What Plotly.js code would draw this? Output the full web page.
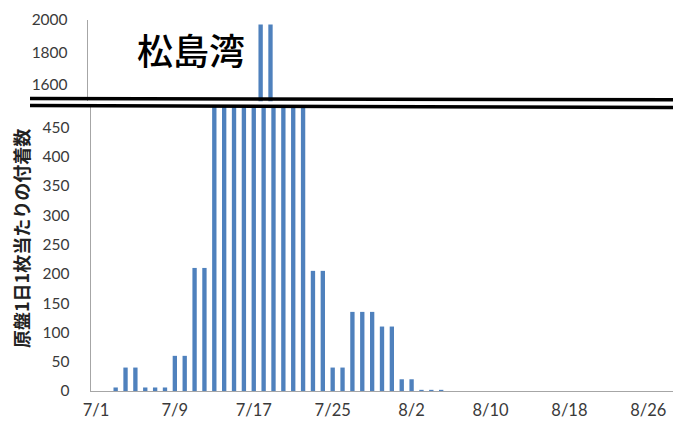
<!DOCTYPE html>
<html>
<head>
<meta charset="utf-8">
<script src="https://cdn.plot.ly/plotly-3.0.1.min.js"></script>
<style>html,body{margin:0;padding:0;background:#fff}#chart{width:673px;height:421px}</style>
</head>
<body>
<div id="chart"></div>
<script>
// Daily categories 7/1 .. 8/28
var dates = ["7/1","7/2","7/3","7/4","7/5","7/6","7/7","7/8","7/9","7/10",
  "7/11","7/12","7/13","7/14","7/15","7/16","7/17","7/18","7/19","7/20",
  "7/21","7/22","7/23","7/24","7/25","7/26","7/27","7/28","7/29","7/30","7/31",
  "8/1","8/2","8/3","8/4","8/5","8/6","8/7","8/8","8/9","8/10",
  "8/11","8/12","8/13","8/14","8/15","8/16","8/17","8/18","8/19","8/20",
  "8/21","8/22","8/23","8/24","8/25","8/26","8/27","8/28"];
// Attachment counts per collector per day
var counts = [0,0,6,40,40,6,6,6,60,60,
  210,210,600,600,900,900,900,1970,1970,1000,
  1000,1000,205,205,40,40,135,135,135,110,110,
  20,20,2,2,2,0,0,0,0,0,
  0,0,0,0,0,0,0,0,0,0,
  0,0,0,0,0,0,0,0];
var xTicks = ["7/1","7/9","7/17","7/25","8/2","8/10","8/18","8/26"];
var lowTicks = [0,50,100,150,200,250,300,350,400,450];
var highTicks = [1600,1800,2000];
var titleText = "松島湾";
var yTitleText = "原盤1日1枚当たりの付着数";

var W = 673, H = 421, L = 88, R = 0, T = 18, B = 30;
var pw = W - L - R, ph = H - T - B;
function px2x(p){ return (p - L) / pw; }
function px2y(p){ return (H - B - p) / ph; }

var barColor = "#4F81BD";
var fam = "Lato, 'Liberation Sans', sans-serif";
var tickFont = {family: fam, size: 15.5, color: "#3a3a3a"};

var traces = [
  {type: "bar", x: dates, y: counts, xaxis: "x", yaxis: "y", marker: {color: barColor}, hoverinfo: "none"},
  {type: "bar", x: dates, y: counts, xaxis: "x2", yaxis: "y2", marker: {color: barColor}, hoverinfo: "none"}
];

var layout = {
  width: W, height: H,
  margin: {l: L, r: R, t: T, b: B},
  paper_bgcolor: "#fff", plot_bgcolor: "rgba(0,0,0,0)",
  showlegend: false,
  bargap: 0.56,
  xaxis: {
    type: "category", domain: [px2x(91), 1], range: [-0.5, 58.5],
    anchor: "y", showline: true, linecolor: "#a6a6a6", linewidth: 1.3,
    showgrid: false, zeroline: false, tickmode: "array", tickvals: xTicks, ticktext: xTicks,
    ticks: "outside", ticklen: 0, ticklabelstandoff: 4,
    tickfont: {family: fam, size: 16.5, color: "#3a3a3a"}
  },
  yaxis: {
    domain: [px2y(391), px2y(106.8)], range: [0, 485], anchor: "x",
    showline: true, linecolor: "#a6a6a6", linewidth: 1.3, showgrid: false, zeroline: false,
    tickmode: "array", tickvals: lowTicks, ticks: "outside", ticklen: 0,
    ticklabelstandoff: 17, tickfont: tickFont
  },
  xaxis2: {
    type: "category", domain: [0, 1 - 3 / pw], range: [-0.5, 58.5], anchor: "y2",
    visible: false, showgrid: false, zeroline: false
  },
  yaxis2: {
    domain: [px2y(101.2), px2y(19.5)], range: [1500, 2000], anchor: "x2",
    showline: true, linecolor: "#a6a6a6", linewidth: 1.3, showgrid: false, zeroline: false,
    tickmode: "array", tickvals: highTicks, ticks: "outside", ticklen: 0,
    ticklabelstandoff: 16, tickfont: tickFont
  },
  shapes: [
    {type: "line", xref: "paper", yref: "paper", x0: px2x(30), x1: px2x(673),
     y0: px2y(98.5), y1: px2y(99.8), line: {color: "#000", width: 3.5}},
    {type: "line", xref: "paper", yref: "paper", x0: px2x(30), x1: px2x(673),
     y0: px2y(105.5), y1: px2y(107.6), line: {color: "#000", width: 3.5}}
  ],
  annotations: [
    {text: titleText, xref: "paper", yref: "paper", x: px2x(191), y: px2y(48.5),
     xanchor: "center", yanchor: "middle", showarrow: false,
     font: {family: "'Noto Sans CJK JP', sans-serif", size: 36, color: "#000", weight: 500}},
    {text: yTitleText, xref: "paper", yref: "paper", x: px2x(21), y: px2y(239),
     xanchor: "center", yanchor: "middle", showarrow: false, textangle: -90,
     font: {family: "'Noto Sans CJK JP', sans-serif", size: 18, color: "#222", weight: "bold"}}
  ]
};

Plotly.newPlot("chart", traces, layout, {staticPlot: true, displayModeBar: false});
</script>
</body>
</html>
